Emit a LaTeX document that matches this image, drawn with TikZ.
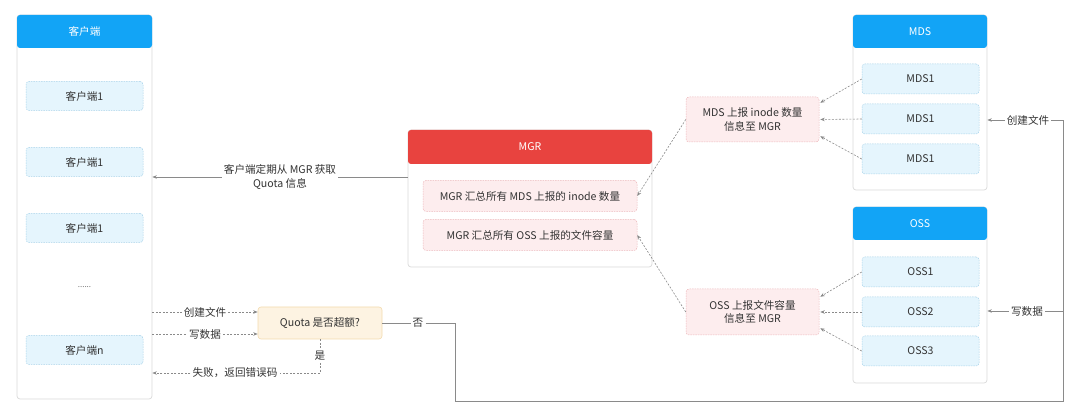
\documentclass[tikz,border=0pt]{standalone}
\usepackage{fontspec}
\setmainfont{Noto Sans CJK SC}
\usetikzlibrary{arrows.meta,calc}
\definecolor{hblue}{HTML}{12A4F6}
\definecolor{hred}{HTML}{E8433F}
\definecolor{itemf}{HTML}{E5F5FD}
\definecolor{itemb}{HTML}{A8D3EA}
\definecolor{pinkf}{HTML}{FDEDEE}
\definecolor{pinkb}{HTML}{EDB9BC}
\definecolor{quotaf}{HTML}{FDF3E2}
\definecolor{quotab}{HTML}{F3DAAE}
\definecolor{txt}{HTML}{333333}
\definecolor{arrc}{HTML}{8A8A8A}
\definecolor{panelb}{HTML}{DADADA}
\tikzset{
  fs/.style={font=\fontsize{10.6}{13.5}\selectfont},
  panel/.style={draw=panelb, fill=white, rounded corners=3pt, line width=0.7pt, inner sep=0pt},
  head/.style={fill=#1, rounded corners=3pt, text=white, inner sep=0pt, fs},
  item/.style={draw=itemb, fill=itemf, rounded corners=3pt, line width=0.5pt,
    dash pattern=on 1.5pt off 1pt, text=txt, inner sep=0pt, fs},
  pitem/.style={draw=pinkb, fill=pinkf, rounded corners=3pt, line width=0.5pt,
    dash pattern=on 1.5pt off 1pt, text=txt, inner sep=0pt, fs, align=center},
  qbox/.style={draw=quotab, fill=quotaf, rounded corners=3pt, line width=0.6pt,
    text=txt, inner sep=0pt, fs},
  arr/.style={draw=arrc, line width=0.6pt, -{Stealth[length=4.5pt,width=3.5pt]}},
  darr/.style={arr, dash pattern=on 2pt off 1.5pt},
  sline/.style={draw=arrc, line width=0.6pt},
  dline/.style={sline, dash pattern=on 2pt off 1.5pt},
  lab/.style={fill=white, inner sep=2pt, text=txt, fs, align=center},
}
\begin{document}
\begin{tikzpicture}[x=1pt,y=-1pt]
\useasboundingbox (0,0) rectangle (1080,419);

% ---------- client panel ----------
\node[panel, minimum width=135pt, minimum height=384pt] (cli) at (84.5,207) {};
\node[head=hblue, minimum width=135pt, minimum height=33pt] (clih) at (84.5,31.5) {客户端};
\node[item, minimum width=117pt, minimum height=29pt] (c1) at (84.5,96) {客户端1};
\node[item, minimum width=117pt, minimum height=29pt] (c2) at (84.5,162) {客户端1};
\node[item, minimum width=117pt, minimum height=29pt] (c3) at (84.5,228) {客户端1};
\node[text=black!55, font=\fontsize{8}{10}\selectfont] (cdots) at (84.5,287) {......};
\node[item, minimum width=117pt, minimum height=29pt] (cn) at (84.5,350) {客户端n};

% ---------- MGR panel ----------
\node[panel, minimum width=244pt, minimum height=137pt] (mgr) at (530,198.5) {};
\node[head=hred, minimum width=244pt, minimum height=34pt] (mgrh) at (530,147) {MGR};
\node[pitem, minimum width=214pt, minimum height=31pt] (m1) at (530,196) {MGR 汇总所有 MDS 上报的 inode 数量};
\node[pitem, minimum width=214pt, minimum height=31pt] (m2) at (530,235) {MGR 汇总所有 OSS 上报的文件容量};

% ---------- MDS panel ----------
\node[panel, minimum width=134pt, minimum height=175pt] (mds) at (920,102.5) {};
\node[head=hblue, minimum width=134pt, minimum height=33pt] (mdsh) at (920,31.5) {MDS};
\node[item, minimum width=117pt, minimum height=30pt] (d1) at (920.5,79) {MDS1};
\node[item, minimum width=117pt, minimum height=30pt] (d2) at (920.5,119) {MDS1};
\node[item, minimum width=117pt, minimum height=30pt] (d3) at (920.5,159) {MDS1};

% ---------- OSS panel ----------
\node[panel, minimum width=134pt, minimum height=176pt] (oss) at (920,295) {};
\node[head=hblue, minimum width=134pt, minimum height=33pt] (ossh) at (920,223.5) {OSS};
\node[item, minimum width=117pt, minimum height=30pt] (o1) at (920.5,272) {OSS1};
\node[item, minimum width=117pt, minimum height=30pt] (o2) at (920.5,312) {OSS2};
\node[item, minimum width=117pt, minimum height=30pt] (o3) at (920.5,351) {OSS3};

% ---------- report boxes ----------
\node[pitem, minimum width=133pt, minimum height=45pt] (mdsr) at (752.5,119.5) {MDS 上报 inode 数量\\信息至 MGR};
\node[pitem, minimum width=133pt, minimum height=46pt] (ossr) at (752.5,312) {OSS 上报文件容量\\信息至 MGR};

% ---------- quota ----------
\node[qbox, minimum width=124pt, minimum height=32pt] (quota) at (320,323) {Quota 是否超额?};

% ---------- MGR -> clients ----------
\node[lab] (lq) at (280,177) {客户端定期从 MGR 获取\\Quota 信息};
\draw[sline] (mgr.west |- lq) -- (lq.east);
\draw[arr] (lq.west) -- (cli.east |- lq);

% ---------- clients -> quota ----------
\node[lab] (lcf) at (205,312) {创建文件};
\node[lab] (lwd) at (205,334) {写数据};
\draw[dline] (cli.east |- lcf) -- (lcf.west);
\draw[darr] (lcf.east) -- (quota.west |- lcf);
\draw[dline] (cli.east |- lwd) -- (lwd.west);
\draw[darr] (lwd.east) -- (quota.west |- lwd);

% ---------- quota yes ----------
\node[lab] (lyes) at (320,356) {是};
\node[lab] (lfail) at (235,373) {失败，返回错误码};
\draw[dline] (quota.south) -- (lyes.north);
\draw[dline] (lyes.south) -- (quota.south |- lfail) -- (lfail.east);
\draw[darr] (lfail.west) -- (cli.east |- lfail);

% ---------- quota no ----------
\node[lab] (lno) at (418,323) {否};
\coordinate (n1) at (455,323);
\coordinate (n2) at (455,401);
\coordinate (n3) at (1063,401);
\node[lab] (rcf) at (1028,120) {创建文件};
\node[lab] (rwd) at (1027,311) {写数据};
\coordinate (n4) at (1063,120);
\draw[sline] (quota.east) -- (lno.west);
\draw[sline] (lno.east) -- (n1) -- (n2) -- (n3) -- (n4) -- (rcf.east);
\draw[arr] (rcf.west) -- (mds.east |- rcf);
\draw[sline] (n3 |- rwd) -- (rwd.east);
\draw[arr] (rwd.west) -- (oss.east |- rwd);

% ---------- MDS -> report ----------
\draw[darr] (d1.west) -- ($(mdsr.north east)+(1,6)$);
\draw[darr] (d2.west) -- ($(mdsr.east)+(1,0)$);
\draw[darr] (d3.west) -- ($(mdsr.south east)+(1,-6)$);
\draw[darr] (mdsr.west) -- (m1.east);

% ---------- OSS -> report ----------
\draw[darr] (o1.west) -- ($(ossr.north east)+(1,8)$);
\draw[darr] (o2.west) -- ($(ossr.east)+(1,0)$);
\draw[darr] (o3.west) -- ($(ossr.south east)+(1,-7)$);
\draw[darr] (ossr.west) -- (m2.east);

\end{tikzpicture}
\end{document}
